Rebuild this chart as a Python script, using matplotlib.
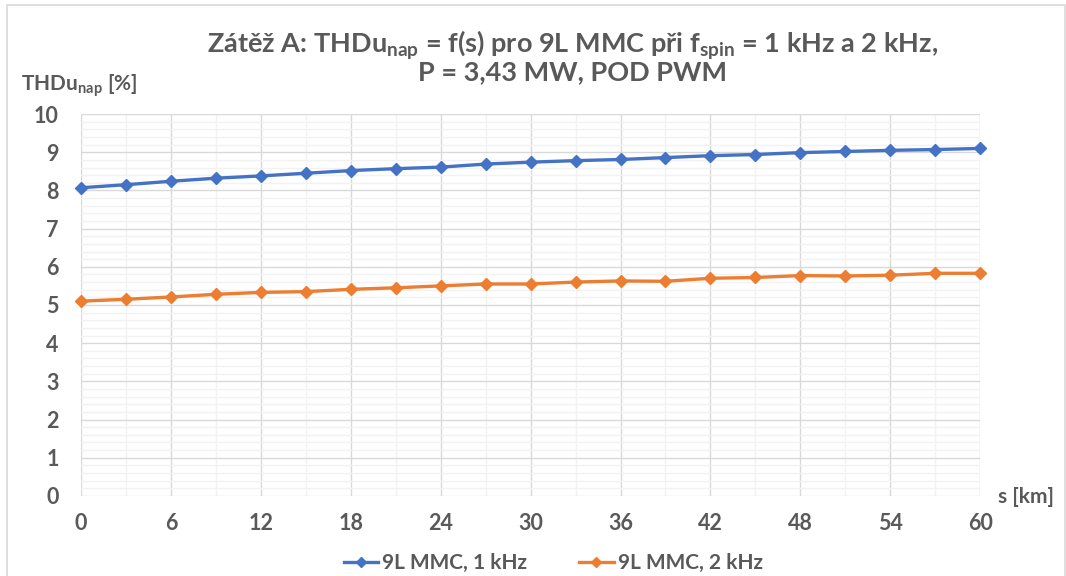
import matplotlib
matplotlib.use("Agg")
import matplotlib.pyplot as plt
from matplotlib.ticker import MultipleLocator
from matplotlib.patches import Rectangle

plt.rcParams['font.family'] = ['Lato', 'DejaVu Sans']
plt.rcParams['mathtext.fontset'] = 'custom'
plt.rcParams['mathtext.rm'] = 'Lato:bold'
plt.rcParams['mathtext.bf'] = 'Lato:bold'

# Distance along the cable, km
s_km = [0, 3, 6, 9, 12, 15, 18, 21, 24, 27, 30, 33, 36, 39, 42, 45, 48, 51, 54, 57, 60]
# Voltage THD, %
thd_1khz = [8.07, 8.15, 8.24, 8.32, 8.38, 8.45, 8.52, 8.57, 8.61, 8.69, 8.74,
            8.78, 8.81, 8.86, 8.91, 8.94, 8.99, 9.02, 9.05, 9.07, 9.10]
thd_2khz = [5.10, 5.15, 5.21, 5.28, 5.33, 5.35, 5.41, 5.45, 5.50, 5.55, 5.55,
            5.60, 5.63, 5.62, 5.70, 5.72, 5.77, 5.76, 5.78, 5.83, 5.83]
labels = ['9L MMC, 1 kHz', '9L MMC, 2 kHz']
colors = ['#4472C4', '#ED7D31']
x_ticks = list(range(0, 61, 6))
y_ticks = list(range(0, 11))

txt = '#595959'

fig = plt.figure(figsize=(10.66, 5.76), dpi=100)
# chart-area frame
fig.patches.append(Rectangle((0.0061, -0.01), 0.9925, 1.0013, transform=fig.transFigure,
                             fill=False, edgecolor='#D9D9D9', linewidth=1.2))
ax = fig.add_axes([0.076, 0.139, 0.8435, 0.663])

for y, lab, c in zip([thd_1khz, thd_2khz], labels, colors):
    ax.plot(s_km, y, color=c, linewidth=2.4, marker='D', markersize=6.5,
            label=lab, zorder=3, clip_on=False)

ax.set_xlim(0, 60)
ax.set_ylim(0, 10)
ax.set_xticks(x_ticks)
ax.set_yticks(y_ticks)
ax.xaxis.set_minor_locator(MultipleLocator(3))
ax.yaxis.set_minor_locator(MultipleLocator(0.2))
ax.grid(which='minor', color='#F2F2F2', linewidth=1.0, zorder=0)
ax.grid(which='major', color='#D9D9D9', linewidth=1.0, zorder=1)
ax.set_axisbelow(True)
for sp in ax.spines.values():
    sp.set_visible(False)
ax.tick_params(which='both', length=0)
ax.tick_params(axis='x', pad=12)
ax.tick_params(axis='y', pad=16)
for t in ax.get_xticklabels() + ax.get_yticklabels():
    t.set_fontsize(15.5)
    t.set_fontweight('bold')
    t.set_color(txt)

fig.text(0.537, 0.922, r'Zátěž A: THDu$_{\mathrm{nap}}$ = f(s) pro 9L MMC při f$_{\mathrm{spin}}$ = 1 kHz a 2 kHz,',
         ha='center', va='center', fontsize=19.5, fontweight='bold', color=txt)
fig.text(0.537, 0.874, 'P = 3,43 MW, POD PWM',
         ha='center', va='center', fontsize=19.5, fontweight='bold', color=txt)
fig.text(0.020, 0.852, r'THDu$_{\mathrm{nap}}$ [%]', ha='left', va='center',
         fontsize=15, fontweight='bold', color=txt)
fig.text(0.936, 0.138, 's [km]', ha='left', va='center',
         fontsize=15, fontweight='bold', color=txt)

leg = fig.legend(loc='center', bbox_to_anchor=(0.519, 0.022), ncol=2, frameon=False,
                 prop={'family': 'Lato', 'weight': 'bold', 'size': 15},
                 handlelength=1.65, columnspacing=2.5, handletextpad=0.2, markerscale=0.8)
for t in leg.get_texts():
    t.set_color(txt)

fig.savefig('out.png', dpi=100)
